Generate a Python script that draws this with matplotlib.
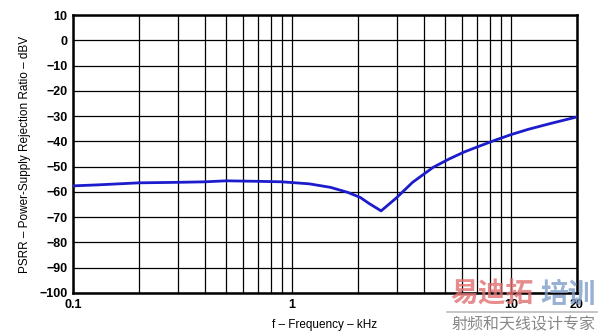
import matplotlib
matplotlib.use("Agg")
import matplotlib.pyplot as plt
from matplotlib.ticker import FixedLocator, NullLocator, NullFormatter

freq_khz = [0.1, 0.13, 0.2, 0.3, 0.4, 0.5, 0.7, 0.9, 1.2, 1.5, 1.8, 2.05, 2.25, 2.55,
            3.0, 3.55, 4.4, 5.2, 6.1, 7.2, 8.4, 10, 12, 15, 20]
psrr_db = [-57.6, -57.2, -56.4, -56.2, -56.0, -55.6, -55.8, -56.0, -56.8, -58.2, -60.2, -62.2,
           -64.6, -67.5, -62.3, -56.2, -50.3, -47.0, -44.2, -41.8, -39.6, -37.3, -35.2, -33.0, -30.3]

xticks = [0.1, 1, 10, 20]
xticklabels = ["0.1", "1", "10", "20"]
yticks = list(range(-100, 11, 10))

fig = plt.figure(figsize=(6.0, 3.34), dpi=100)
ax = fig.add_axes([0.1217, 0.1228, 0.84, 0.832])

ax.plot(freq_khz, psrr_db, color="#1c1ccc", lw=2.0, zorder=3)
ax.set_xscale("log")
ax.set_xlim(0.1, 20)
ax.set_ylim(-100, 10)

grid_x = [m * 10.0 ** e for e in (-1, 0) for m in range(1, 10)] + [10, 20]
for gx in grid_x:
    ax.axvline(gx, color="black", lw=0.9, zorder=1)
for gy in yticks:
    ax.axhline(gy, color="black", lw=0.9, zorder=1)

ax.xaxis.set_major_locator(FixedLocator(xticks))
ax.xaxis.set_minor_locator(NullLocator())
ax.xaxis.set_minor_formatter(NullFormatter())
ax.set_xticklabels(xticklabels)
ax.set_yticks(yticks)
ax.tick_params(length=0, labelsize=9, pad=4)
for lab in ax.get_xticklabels() + ax.get_yticklabels():
    lab.set_fontweight("bold")
    lab.set_family("Liberation Sans")

for s in ax.spines.values():
    s.set_linewidth(1.8)
    s.set_color("black")

ax.set_xlabel("f – Frequency – kHz", fontsize=8.5, family="Liberation Sans", labelpad=6)
ax.set_ylabel("PSRR – Power-Supply Rejection Ratio – dBV", fontsize=8.5, family="Liberation Sans", labelpad=6)

cjk = ["Noto Sans CJK SC", "DejaVu Sans"]
fig.text(0.750, 0.117, "易迪拓", family=cjk, fontsize=20, fontweight="bold",
         color="#e07070", alpha=0.8, ha="left", va="center", zorder=5)
fig.text(0.900, 0.117, "培训", family=cjk, fontsize=20, fontweight="bold",
         color="#7f9cc8", alpha=0.8, ha="left", va="center", zorder=5)
fig.add_artist(plt.Line2D([0.745, 0.995], [0.066, 0.066], transform=fig.transFigure,
                          color="#bbbbbb", lw=1.2))
fig.text(0.872, 0.027, "射频和天线设计专家", family=cjk, fontsize=11.5,
         color="#888888", ha="center", va="center", zorder=5)

fig.savefig("out.png", dpi=100)
